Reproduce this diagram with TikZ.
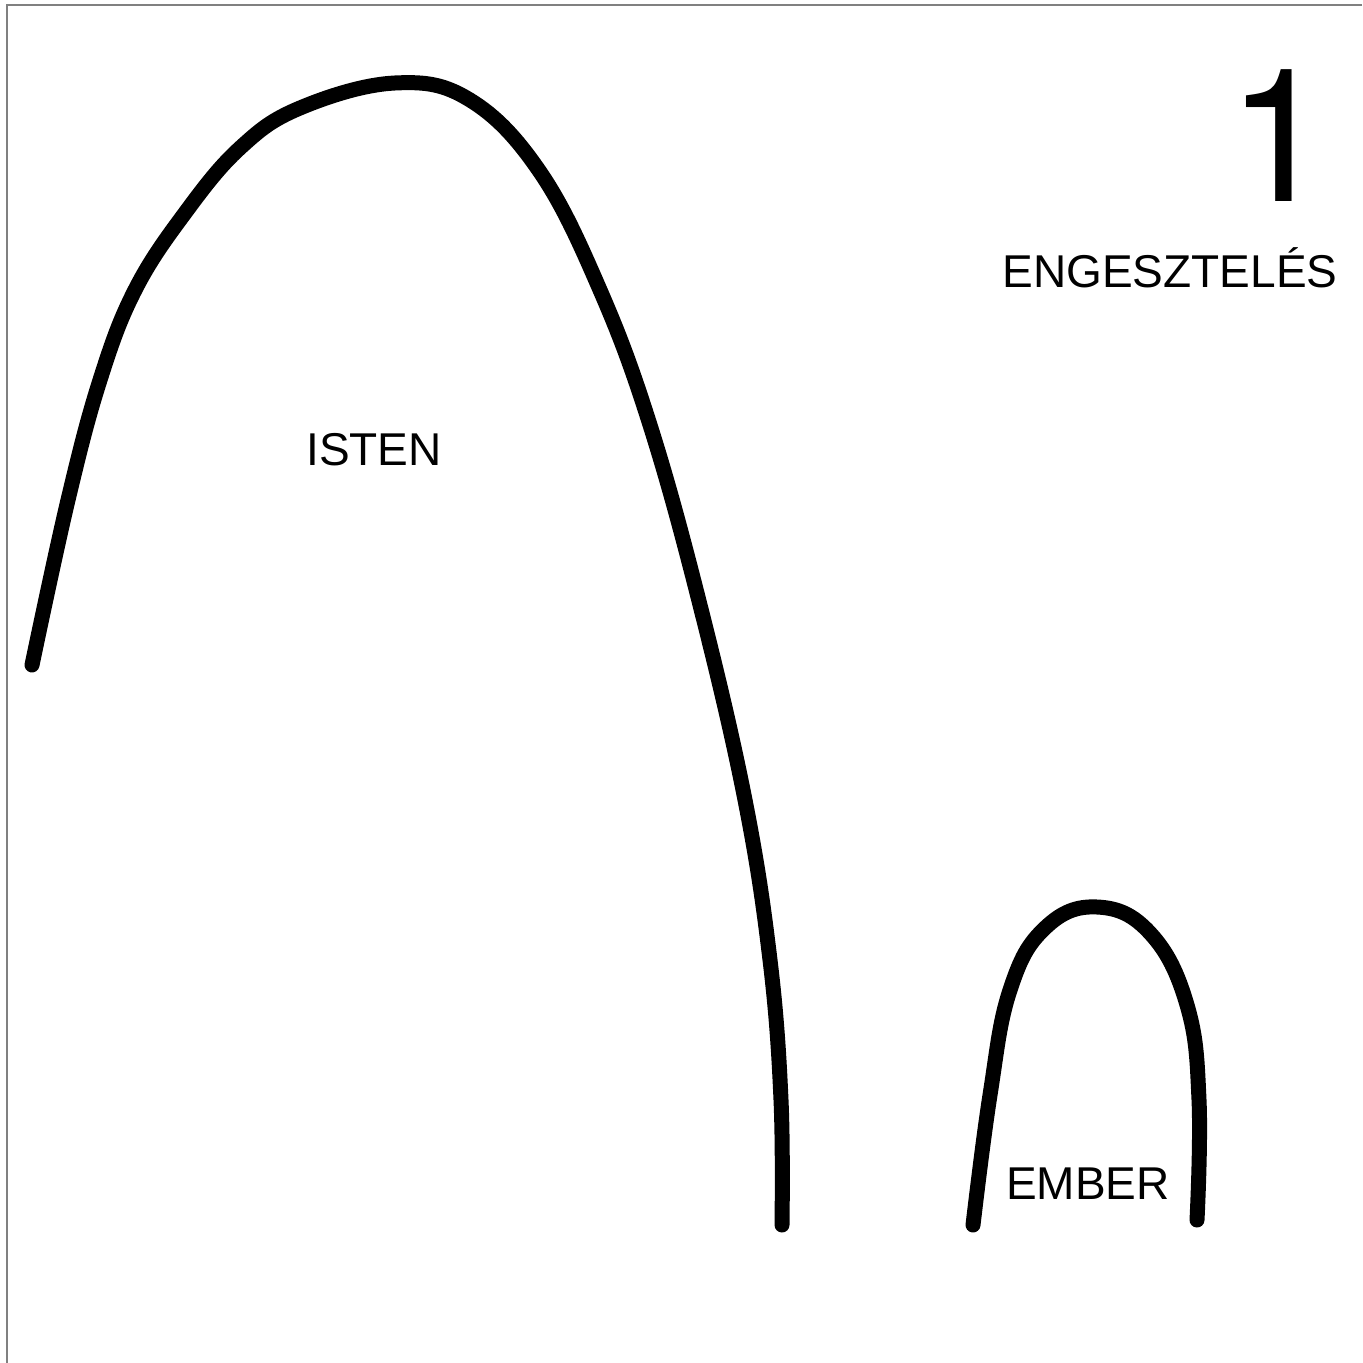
\documentclass[tikz,border=0pt]{standalone}
\usepackage{fontspec}
\setmainfont{Liberation Sans}
\newfontfamily\numfont{TeX Gyre Heros}
\usepackage{tikz}
\usetikzlibrary{positioning}

\begin{document}
\begin{tikzpicture}[
  x=0.5pt, y=-0.5pt,
  label/.style={inner sep=0pt, font=\fontsize{23}{27}\selectfont},
  bignum/.style={inner sep=0pt, font=\numfont\fontsize{93}{100}\selectfont},
  arch/.style={line width=7.5pt, line cap=round, line join=round},
  frame/.style={draw=gray, line width=1.2pt}
]
\useasboundingbox (0,0) rectangle (1362,1363);
% frame: top and left edges only
\draw[frame] (1362,5) -- (7,5) -- (7,1363);
% big arch
\draw[arch] plot[smooth, tension=0.65] coordinates {
  (32,665) (68,500) (100,380) (135,290) (185,213) (240,148) (300,108)
  (395,83) (470,100) (540,172) (600,290) (650,425) (700,605) (745,800)
  (770,960) (781,1100) (782,1225)};
% small arch
\draw[arch] plot[smooth, tension=0.7] coordinates {
  (973,1225) (990,1095) (1010,990) (1045,928) (1097,907) (1150,933)
  (1187,1005) (1199,1100) (1197,1220)};
\node[label] (isten) at (374,450) {ISTEN};
\node[label] (ember) at (1088,1184) {EMBER};
\node[label] (title) at (1170,268) {ENGESZTELÉS};
\node[bignum] (num) at (1279,136) {1};
\end{tikzpicture}
\end{document}
